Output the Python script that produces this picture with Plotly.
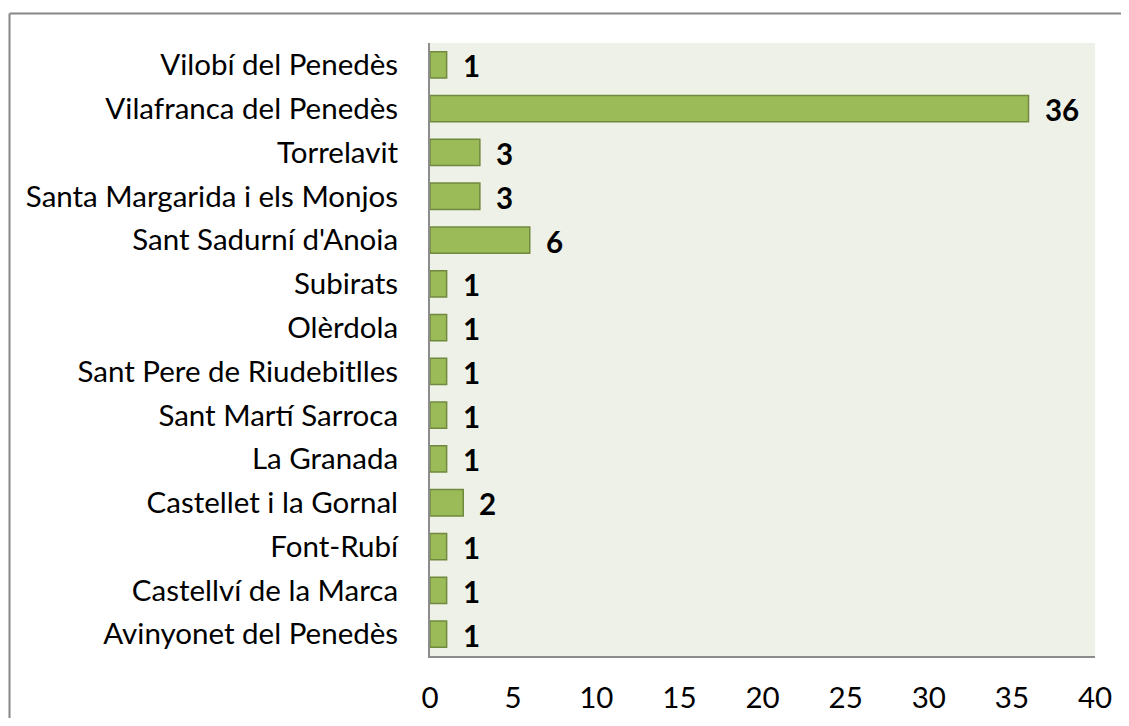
import plotly.graph_objects as go

categories = ["Avinyonet del Penedès", "Castellví de la Marca", "Font-Rubí",
              "Castellet i la Gornal", "La Granada", "Sant Martí Sarroca",
              "Sant Pere de Riudebitlles", "Olèrdola", "Subirats",
              "Sant Sadurní d'Anoia", "Santa Margarida i els Monjos",
              "Torrelavit", "Vilafranca del Penedès", "Vilobí del Penedès"]
values = [1, 1, 1, 2, 1, 1, 1, 1, 1, 6, 3, 3, 36, 1]
x_ticks = [0, 5, 10, 15, 20, 25, 30, 35, 40]

FONT = "Lato"
FS = 29.5
OFF = 8  # page body margin
W, H = 1129 - 2 * OFF, 726 - 2 * OFF
L, T = 430 - OFF, 43 - OFF
R = (OFF + W) - 1095
B = H - (656 - OFF)
pw, ph = W - L - R, H - T - B

fig = go.Figure()
fig.add_trace(go.Bar(
    y=categories, x=values, orientation="h",
    marker=dict(color="#9BBB59", line=dict(color="#71893F", width=1.5)),
    hoverinfo="skip",
))

for c, v in zip(categories, values):
    fig.add_annotation(x=v, y=c, text=f"<b>{v}</b>", showarrow=False,
                       xanchor="left", xshift=14, yshift=-1,
                       font=dict(family=FONT, size=FS, color="#000000"))

def px_to_paper_x(p):
    return (p - OFF - L) / pw

def px_to_paper_y(p):
    return (H - B - (p - OFF)) / ph

bx0, bx1 = px_to_paper_x(9.5), px_to_paper_x(OFF + W)
by0, by1 = px_to_paper_y(OFF + H), px_to_paper_y(13.5)
# outer chart border (top and left edges; right/bottom fall outside the view)
fig.add_shape(type="line", xref="paper", yref="paper",
              x0=bx0, x1=bx1, y0=by1, y1=by1,
              line=dict(color="#868686", width=2), layer="below")
fig.add_shape(type="line", xref="paper", yref="paper",
              x0=bx0, x1=bx0, y0=by0, y1=by1,
              line=dict(color="#868686", width=2), layer="below")

fig.update_layout(
    width=W, height=H,
    margin=dict(l=L, r=R, t=T, b=B, autoexpand=False),
    paper_bgcolor="white",
    plot_bgcolor="#EEF1E8",
    bargap=0.4,
    showlegend=False,
    font=dict(family=FONT, size=FS, color="#000000"),
)
fig.update_xaxes(range=[0, 40], tickvals=x_ticks, showgrid=False, zeroline=False,
                 showline=True, linecolor="#8C8C8C", linewidth=2,
                 ticks="outside", ticklen=0, ticklabelstandoff=15,
                 automargin=False,
                 tickfont=dict(family=FONT, size=FS))
fig.update_yaxes(showgrid=False, zeroline=False, showline=True,
                 linecolor="#8C8C8C", linewidth=2,
                 ticks="outside", ticklen=0, ticklabelstandoff=24,
                 automargin=False,
                 tickfont=dict(family=FONT, size=FS))

fig.write_html("out.html")
